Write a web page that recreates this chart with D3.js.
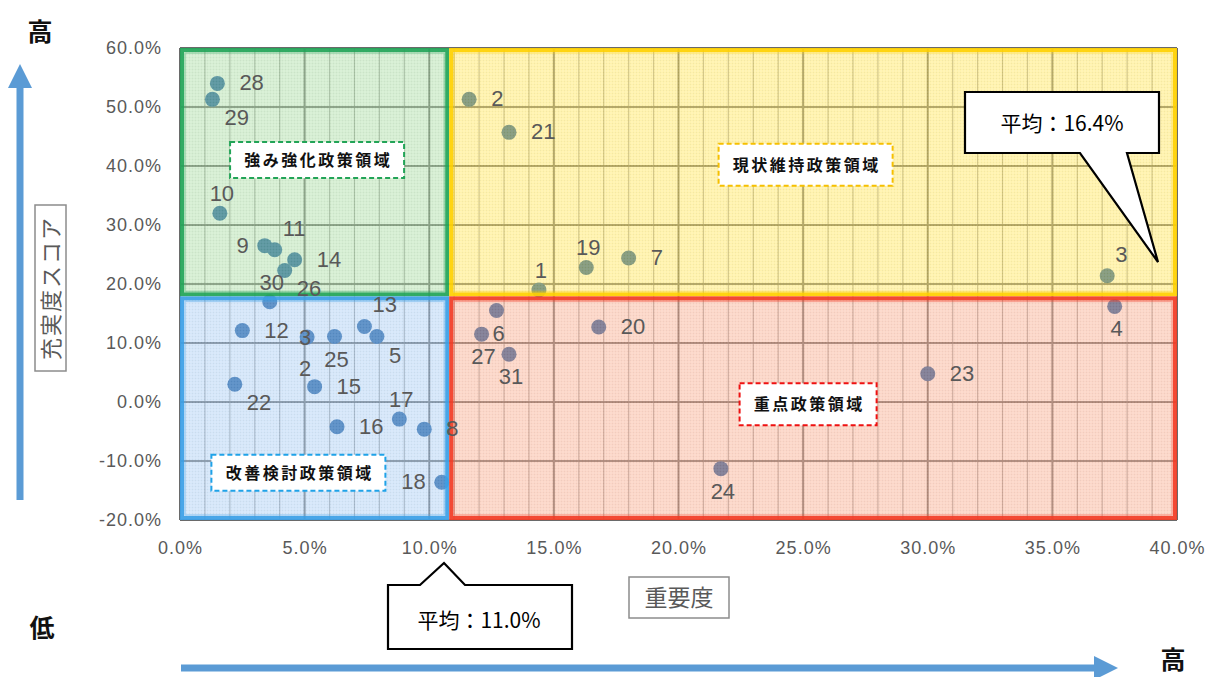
<!DOCTYPE html>
<html>
<head>
<meta charset="utf-8">
<script src="https://cdn.jsdelivr.net/npm/d3@7"></script>
<style>
  body { margin: 0; background: #fff; }
  svg { display: block; }
  .tick text { font-family: "Liberation Sans", "DejaVu Sans", sans-serif; }
</style>
</head>
<body>
<div id="main"></div>
<script>
// data: policy items (importance %, satisfaction score %)
const ids = ["28", "29", "10", "9", "11", "14", "26", "30", "12", "32", "25", "13", "5", "22", "15", "17", "16", "8", "18",
    "2", "21", "1", "19", "7", "3", "4", "6", "27", "31", "20", "23", "24"];
const importance = [1.5, 1.3, 1.6, 3.4, 3.8, 4.6, 4.2, 3.6, 2.5, 5.1, 6.2, 7.4, 7.9, 2.2, 5.4, 8.8, 6.3, 9.8, 10.5,
    11.6, 13.2, 14.4, 16.3, 18.0, 37.2, 37.5, 12.7, 12.1, 13.2, 16.8, 30.0, 21.7];
const score = [54.0, 51.3, 32.0, 26.5, 25.8, 24.1, 22.3, 17.0, 12.1, 11.0, 11.1, 12.8, 11.1, 3.0, 2.6, -2.9, -4.2, -4.6, -13.6,
    51.3, 45.7, 19.0, 22.8, 24.4, 21.4, 16.2, 15.5, 11.5, 8.1, 12.7, 4.8, -11.3];
// where each number sits against its dot
const labelSide = {
    "28": "r", "29": "br", "10": "t", "9": "l", "11": "tr", "14": "r", "26": "br", "30": "t", "12": "r", "32": "v",
    "25": "b", "13": "tr", "5": "br", "22": "br", "15": "r", "17": "t", "16": "r", "8": "r", "18": "l",
    "2": "r", "21": "r", "1": "t", "19": "t", "7": "r", "3": "tr", "4": "b", "6": "b", "27": "b", "31": "b", "20": "r", "23": "r", "24": "b"
};
const xTicks = [0, 5, 10, 15, 20, 25, 30, 35, 40];
const yTicks = [-20, -10, 0, 10, 20, 30, 40, 50, 60];
const avgImportance = 11.0;
const avgScore = 16.4;
// quadrant split as drawn in the chart
const xSplit = 10.8;
const ySplit = 17.9;
const quadrants = [
    {name: "強み強化政策領域", x0: 0, x1: xSplit, y0: ySplit, y1: 60, fill: "#a9dba2", stroke: "#1fa356", dash: "#22a457"},
    {name: "現状維持政策領域", x0: xSplit, x1: 40, y0: ySplit, y1: 60, fill: "#ffe55a", stroke: "#ffd000", dash: "#f6c000"},
    {name: "改善検討政策領域", x0: 0, x1: xSplit, y0: -20, y1: ySplit, fill: "#a9cdf2", stroke: "#3a9ee6", dash: "#1fa2e8"},
    {name: "重点政策領域", x0: xSplit, x1: 40, y0: -20, y1: ySplit, fill: "#f8ac8e", stroke: "#f23a24", dash: "#ee1111"}
];
// label box centres (data coords)
const quadLabelPos = [[5.5, 41.0], [25.1, 40.2], [4.75, -12.0], [25.2, -0.4]];

const W = 1209, H = 677;
const svg = d3.select("#main").append("svg").attr("width", W).attr("height", H);

const x = d3.scaleLinear().domain([0, 40]).range([180, 1177]);
const y = d3.scaleLinear().domain([-20, 60]).range([520, 48]);

// fine texture used by the quadrant fills
const defs = svg.append("defs");
quadrants.forEach((q, i) => {
    const p = defs.append("pattern")
        .attr("id", "pat" + i)
        .attr("width", 3).attr("height", 3)
        .attr("patternUnits", "userSpaceOnUse");
    p.append("rect").attr("width", 3).attr("height", 3).attr("fill", q.fill);
    p.append("rect").attr("width", 1).attr("height", 1).attr("fill", d3.color(q.fill).darker(0.3));
    p.append("rect").attr("x", 1.5).attr("y", 1.5).attr("width", 1).attr("height", 1).attr("fill", "#fff").attr("opacity", 0.5);
});

// Grid
const grid = svg.append("g");
grid.selectAll("line.minor")
    .data(d3.range(0, 41, 1))
    .enter().append("line")
    .attr("x1", d => x(d)).attr("x2", d => x(d))
    .attr("y1", y(60)).attr("y2", y(-20))
    .attr("stroke", d => d % 5 === 0 ? "#6a6a6a" : "#a8a8a8")
    .attr("stroke-width", d => d % 5 === 0 ? 2 : 1.2);
grid.selectAll("line.h")
    .data(yTicks)
    .enter().append("line")
    .attr("x1", x(0)).attr("x2", x(40))
    .attr("y1", d => y(d)).attr("y2", d => y(d))
    .attr("stroke", "#6a6a6a")
    .attr("stroke-width", 2);

// Points (under the translucent quadrant overlays)
const pts = ids.map((id, i) => ({id, x: importance[i], y: score[i]}));
svg.append("g")
    .selectAll("circle")
    .data(pts)
    .enter().append("circle")
    .attr("cx", d => x(d.x))
    .attr("cy", d => y(d.y))
    .attr("r", 7.5)
    .attr("fill", "#14569e");

// Quadrant overlays
const quadG = svg.append("g");
quadrants.forEach((q, i) => {
    const rx0 = x(q.x0), rx1 = x(q.x1), ry0 = y(q.y1), ry1 = y(q.y0);
    quadG.append("rect")
        .attr("x", rx0).attr("y", ry0)
        .attr("width", rx1 - rx0).attr("height", ry1 - ry0)
        .attr("fill", `url(#pat${i})`)
        .attr("opacity", 0.5);
    quadG.append("rect")
        .attr("x", rx0 + 2).attr("y", ry0 + 2)
        .attr("width", rx1 - rx0 - 4).attr("height", ry1 - ry0 - 4)
        .attr("fill", "none")
        .attr("stroke", q.stroke)
        .attr("stroke-width", 4)
        .attr("opacity", 0.9);
    quadG.append("rect")
        .attr("x", rx0 + 5).attr("y", ry0 + 5)
        .attr("width", rx1 - rx0 - 10).attr("height", ry1 - ry0 - 10)
        .attr("fill", "none")
        .attr("stroke", q.stroke)
        .attr("stroke-width", 1.5)
        .attr("opacity", 0.35);
});

// Point labels
const offsets = {
    r: [22, 7, "start"], br: [12, 26, "start"], t: [2, -12, "middle"], tr: [8, -14, "start"],
    l: [-16, 7, "end"], b: [2, 30, "middle"]
};
const labelG = svg.append("g")
    .attr("font-family", "'Liberation Sans Narrow', 'Liberation Sans', sans-serif")
    .attr("font-size", 22)
    .attr("fill", "#595959");
pts.forEach(d => {
    const side = labelSide[d.id];
    if (side === "v") {
        // wrapped label: one digit per line
        d.id.split("").forEach((ch, k) => {
            labelG.append("text")
                .attr("x", x(d.x) - 2).attr("y", y(d.y) + 8 + k * 31)
                .attr("text-anchor", "middle")
                .text(ch);
        });
        return;
    }
    const [dx, dy, anchor] = offsets[side];
    labelG.append("text")
        .attr("x", x(d.x) + dx)
        .attr("y", y(d.y) + dy)
        .attr("text-anchor", anchor)
        .text(d.id);
});

// Quadrant name boxes
quadrants.forEach((q, i) => {
    const cx = x(quadLabelPos[i][0]), cy = y(quadLabelPos[i][1]);
    const g = svg.append("g").attr("transform", `translate(${cx},${cy})`);
    const t = g.append("text")
        .attr("text-anchor", "middle")
        .attr("dy", "0.36em")
        .attr("font-family", "'Noto Sans CJK JP', sans-serif")
        .attr("font-weight", "bold")
        .attr("font-size", 16)
        .attr("letter-spacing", 2.5)
        .attr("fill", "#111")
        .text(q.name);
    const bb = t.node().getBBox();
    const padX = 13, h = i === 0 || i === 2 ? 36 : 42;
    g.insert("rect", "text")
        .attr("x", -bb.width / 2 - padX).attr("y", -h / 2)
        .attr("width", bb.width + padX * 2).attr("height", h)
        .attr("fill", "#fff")
        .attr("stroke", q.dash)
        .attr("stroke-width", 2)
        .attr("stroke-dasharray", "5,3");
    t.attr("x", 1.25);
});

// Axes
const pct = d => d.toFixed(1) + "%";
const xAxis = svg.append("g")
    .attr("transform", `translate(0,${y(-20)})`)
    .call(d3.axisBottom(x).tickValues(xTicks).tickSize(0).tickPadding(21).tickFormat(pct));
xAxis.select(".domain").remove();
xAxis.selectAll("text").attr("font-size", 18).attr("fill", "#595959").attr("letter-spacing", 1);

const yAxis = svg.append("g")
    .attr("transform", `translate(${x(0)},0)`)
    .call(d3.axisLeft(y).tickValues(yTicks).tickSize(0).tickPadding(18).tickFormat(pct));
yAxis.select(".domain").remove();
yAxis.selectAll("text").attr("font-size", 18).attr("fill", "#595959").attr("letter-spacing", 1);

// Axis titles
const cjk = "'Noto Sans CJK JP', sans-serif";
svg.append("rect").attr("x", 629).attr("y", 577).attr("width", 100).attr("height", 41)
    .attr("fill", "#fff").attr("stroke", "#8c8c8c").attr("stroke-width", 1.5);
svg.append("text").attr("x", 679).attr("y", 598).attr("dy", "0.36em")
    .attr("text-anchor", "middle").attr("font-family", cjk).attr("font-size", 23)
    .attr("fill", "#595959").text("重要度");

svg.append("rect").attr("x", 35).attr("y", 205).attr("width", 31).attr("height", 166)
    .attr("fill", "#fff").attr("stroke", "#8c8c8c").attr("stroke-width", 1.5);
svg.append("text").attr("transform", "translate(51,288) rotate(-90)").attr("dy", "0.36em")
    .attr("text-anchor", "middle").attr("font-family", cjk).attr("font-size", 22)
    .attr("letter-spacing", 2).attr("fill", "#595959").text("充実度スコア");

// Direction arrows
const arrowColor = "#5b9bd5";
svg.append("line").attr("x1", 20).attr("x2", 20).attr("y1", 500).attr("y2", 82)
    .attr("stroke", arrowColor).attr("stroke-width", 7);
svg.append("path").attr("d", "M8,88 L20,64 L32,88 Z").attr("fill", arrowColor);
svg.append("line").attr("x1", 181).attr("x2", 1098).attr("y1", 668).attr("y2", 668)
    .attr("stroke", arrowColor).attr("stroke-width", 7);
svg.append("path").attr("d", "M1094,656 L1118,668 L1094,680 Z").attr("fill", arrowColor);

[["高", 40, 32], ["低", 42, 628], ["高", 1173, 660]].forEach(([s, tx, ty]) => {
    svg.append("text").attr("x", tx).attr("y", ty).attr("dy", "0.36em")
        .attr("text-anchor", "middle").attr("font-family", cjk)
        .attr("font-weight", "bold").attr("font-size", 25).attr("fill", "#111").text(s);
});

// Average callouts
svg.append("path")
    .attr("d", "M965,92 L1159,92 L1159,153 L1127,153 L1158,262 L1080,153 L965,153 Z")
    .attr("fill", "#fff").attr("stroke", "#000").attr("stroke-width", 2.2).attr("stroke-linejoin", "miter");
svg.append("text").attr("x", 1062).attr("y", 131)
    .attr("text-anchor", "middle").attr("font-family", cjk).attr("font-size", 21)
    .attr("fill", "#000").text(`平均：${avgScore.toFixed(1)}%`);

svg.append("path")
    .attr("d", "M388,585 L420,585 L444,563 L465,585 L572,585 L572,649 L388,649 Z")
    .attr("fill", "#fff").attr("stroke", "#000").attr("stroke-width", 2.2);
svg.append("text").attr("x", 479).attr("y", 628)
    .attr("text-anchor", "middle").attr("font-family", cjk).attr("font-size", 21)
    .attr("fill", "#000").text(`平均：${avgImportance.toFixed(1)}%`);
</script>
</body>
</html>
